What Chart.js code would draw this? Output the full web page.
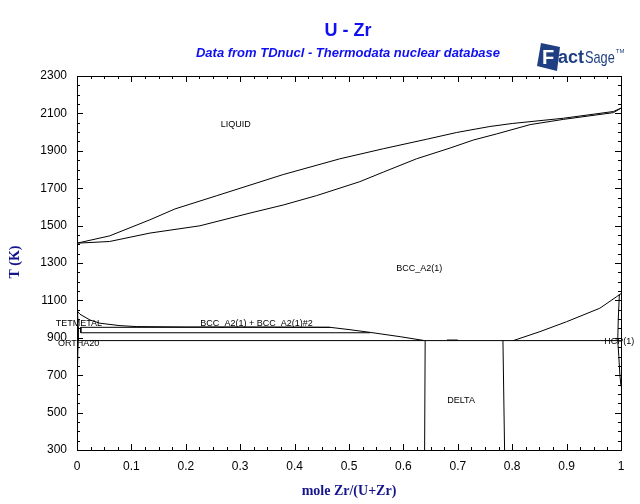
<!DOCTYPE html>
<html>
<head>
<meta charset="utf-8">
<script src="https://cdn.jsdelivr.net/npm/chart.js@4.4.1/dist/chart.umd.min.js"></script>
<style>
    html, body { margin: 0; padding: 0; background: #ffffff; }
    #wrap { width: 640px; height: 504px; }
</style>
</head>
<body>
<div id="wrap"><canvas id="diagram" width="640" height="504"></canvas></div>
<script>
// U - Zr phase diagram (x = mole Zr/(U+Zr), T in K)
const liquidusX = [0, 0.06, 0.134, 0.18, 0.257, 0.379, 0.483, 0.563, 0.643, 0.698, 0.759, 0.80, 0.894, 0.986, 1];
const liquidusT = [1406, 1445, 1531, 1589, 1660, 1773, 1857, 1911, 1962, 1998, 2030, 2046, 2074, 2110, 2128];

const solidusX = [0, 0.06, 0.134, 0.226, 0.318, 0.379, 0.44, 0.52, 0.563, 0.624, 0.686, 0.729, 0.771, 0.833, 0.894, 0.986, 1];
const solidusT = [1406, 1415, 1460, 1499, 1567, 1610, 1660, 1735, 1786, 1857, 1915, 1958, 1990, 2040, 2068, 2104, 2128];

const gammaX = [0, 0.0055, 0.024, 0.042, 0.079, 0.11, 0.2, 0.3, 0.4, 0.465, 0.5, 0.539, 0.594, 0.637];
const gammaT = [1045, 1026, 995, 978, 965, 960, 958, 958, 957, 956, 944, 929, 906, 886];

const monotectoidX = [0.007, 0.465];
const monotectoidT = [956, 956];
const eutectoidX = [0.007, 0.539];
const eutectoidT = [927, 927];
const betaEdgeX = [0.007, 0.007];
const betaEdgeT = [956, 927];
const deltaLineX = [0, 1];
const deltaLineT = [885, 885];
const deltaBumpX = [0.68, 0.70];
const deltaBumpT = [888, 888];

const uSolvusX = [0.001, 0.002, 0.002, 0.001, 0];
const uSolvusT = [1045, 960, 885, 750, 640];

const hcpX = [0.802, 0.851, 0.9, 0.961, 0.992, 1];
const hcpT = [885, 933, 986, 1058, 1120, 1136];
const zrSolvusX = [0.997, 0.995, 0.994, 0.996, 0.998, 1];
const zrSolvusT = [1132, 1000, 885, 800, 700, 640];

const deltaLeftX = [0.64, 0.639];
const deltaLeftT = [885, 300];
const deltaRightX = [0.783, 0.786];
const deltaRightT = [885, 300];

const phaseLabels = [
    { text: "LIQUID", x: 0.292, t: 2042, align: "center" },
    { text: "BCC_A2(1)", x: 0.629, t: 1268, align: "center" },
    { text: "TETMETAL", x: -0.039, t: 979, align: "left" },
    { text: "BCC_A2(1) + BCC_A2(1)#2", x: 0.33, t: 974, align: "center" },
    { text: "ORTHA20", x: -0.035, t: 872, align: "left" },
    { text: "HCP(1)", x: 0.969, t: 878, align: "left" },
    { text: "DELTA", x: 0.706, t: 567, align: "center" },
];

const SANS = "'Liberation Sans', Arial, sans-serif";
const SERIF = "'Liberation Serif', 'Times New Roman', serif";

function toPoints(xs, ts) {
    return xs.map((x, i) => ({ x: x, y: ts[i] }));
}

const curves = [
    [liquidusX, liquidusT], [solidusX, solidusT], [gammaX, gammaT],
    [monotectoidX, monotectoidT], [eutectoidX, eutectoidT], [betaEdgeX, betaEdgeT],
    [deltaLineX, deltaLineT], [deltaBumpX, deltaBumpT], [uSolvusX, uSolvusT],
    [hcpX, hcpT], [zrSolvusX, zrSolvusT], [deltaLeftX, deltaLeftT], [deltaRightX, deltaRightT],
];

function drawLogo(ctx) {
    ctx.fillStyle = "#1f3f82";
    ctx.beginPath();
    ctx.moveTo(541, 43); ctx.lineTo(560, 47); ctx.lineTo(557, 71); ctx.lineTo(537, 66);
    ctx.closePath();
    ctx.fill();
    ctx.textAlign = "left";
    ctx.fillStyle = "#ffffff";
    ctx.font = "bold 20px " + SANS;
    ctx.fillText("F", 542, 58);
    ctx.fillStyle = "#1f3f82";
    ctx.font = "bold 18px " + SANS;
    ctx.fillText("act", 558, 58);
    const sageX = 558 + ctx.measureText("act").width + 1;
    ctx.save();
    ctx.translate(sageX, 58);
    ctx.scale(0.75, 1);
    ctx.font = "17px " + SANS;
    ctx.fillText("Sage", 0, 0);
    const sageW = ctx.measureText("Sage").width * 0.75;
    ctx.restore();
    ctx.font = "6px " + SANS;
    ctx.fillText("TM", sageX + sageW + 1, 51);
}

const framePlugin = {
    id: "frame",
    afterDraw(chart) {
        const ctx = chart.ctx;
        const area = chart.chartArea;
        const xs = chart.scales.x;
        const ys = chart.scales.y;
        ctx.save();
        ctx.strokeStyle = "#000000";
        ctx.lineWidth = 1;
        ctx.strokeRect(Math.round(area.left) + 0.5, Math.round(area.top) + 0.5,
            Math.round(area.right - area.left), Math.round(area.bottom - area.top));

        // inward ticks on all four sides
        ctx.beginPath();
        for (let i = 0; i <= 40; i++) {
            const px = Math.round(xs.getPixelForValue(i * 0.025)) + 0.5;
            const len = i % 4 === 0 ? 6 : 3;
            ctx.moveTo(px, area.bottom); ctx.lineTo(px, area.bottom - len);
            ctx.moveTo(px, area.top); ctx.lineTo(px, area.top + len);
        }
        for (let t = 300; t <= 2300; t += 50) {
            const py = Math.round(ys.getPixelForValue(t)) + 0.5;
            const len = (t - 300) % 200 === 0 ? 6 : 3;
            ctx.moveTo(area.left, py); ctx.lineTo(area.left + len, py);
            ctx.moveTo(area.right, py); ctx.lineTo(area.right - len, py);
        }
        ctx.stroke();

        // phase labels
        ctx.fillStyle = "#000000";
        ctx.font = "9px " + SANS;
        ctx.textBaseline = "middle";
        phaseLabels.forEach(l => {
            ctx.textAlign = l.align;
            ctx.fillText(l.text, xs.getPixelForValue(l.x), ys.getPixelForValue(l.t));
        });

        // titles
        ctx.textAlign = "center";
        ctx.fillStyle = "#1010f0";
        ctx.font = "bold 18px " + SANS;
        ctx.fillText("U - Zr", 348, 31);
        ctx.font = "italic bold 13px " + SANS;
        ctx.fillText("Data from TDnucl - Thermodata nuclear database", 348, 53);

        // axis titles
        ctx.fillStyle = "#14148c";
        ctx.font = "bold 14px " + SERIF;
        ctx.fillText("mole Zr/(U+Zr)", 349, 491);
        ctx.save();
        ctx.translate(15, 262);
        ctx.rotate(-Math.PI / 2);
        ctx.fillText("T (K)", 0, 0);
        ctx.restore();

        drawLogo(ctx);
        ctx.restore();
    },
};

new Chart(document.getElementById("diagram"), {
    type: "scatter",
    data: {
        datasets: curves.map(c => ({
            data: toPoints(c[0], c[1]),
            showLine: true,
            borderColor: "#000000",
            borderWidth: 1,
            pointRadius: 0,
            tension: 0,
        })),
    },
    options: {
        responsive: false,
        animation: false,
        layout: { padding: { left: 0, right: 19, top: 76, bottom: 0 } },
        plugins: {
            legend: { display: false },
            tooltip: { enabled: false },
        },
        scales: {
            x: {
                type: "linear",
                min: 0,
                max: 1,
                afterFit: (scale) => { scale.height = 54; },
                grid: { display: false, drawTicks: false },
                border: { display: false },
                ticks: {
                    stepSize: 0.1,
                    padding: 9,
                    color: "#000000",
                    font: { family: SANS, size: 12 },
                    callback: (v) => String(Math.round(v * 10) / 10),
                },
            },
            y: {
                type: "linear",
                min: 300,
                max: 2300,
                afterFit: (scale) => { scale.width = 77; },
                grid: { display: false, drawTicks: false },
                border: { display: false },
                ticks: {
                    stepSize: 200,
                    padding: 10,
                    color: "#000000",
                    font: { family: SANS, size: 12 },
                    callback: (v) => String(v),
                },
            },
        },
    },
    plugins: [framePlugin],
});
</script>
</body>
</html>
